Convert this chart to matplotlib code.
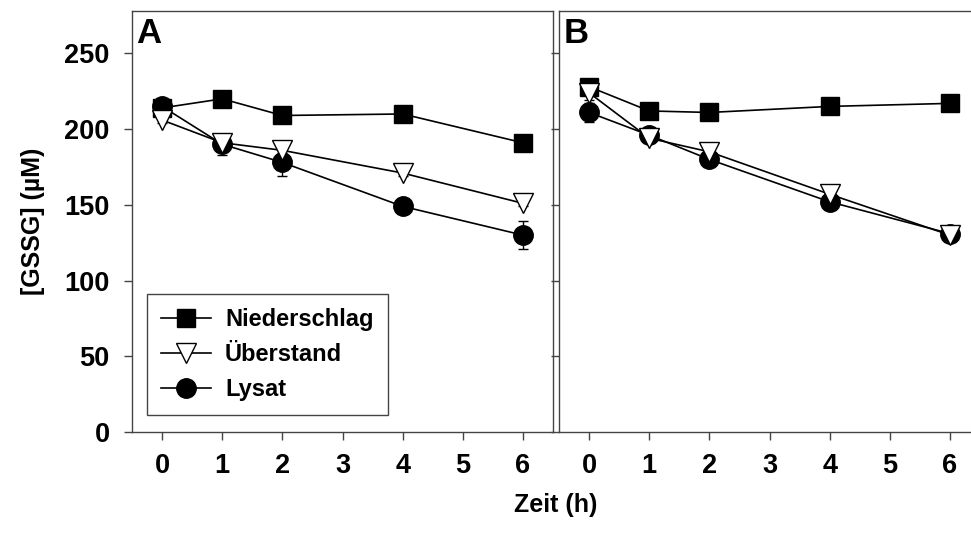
import numpy as np
import matplotlib.pyplot as plt
from matplotlib.lines import Line2D

plt.rcParams['font.family'] = ['Liberation Sans', 'DejaVu Sans']
plt.rcParams['font.weight'] = 'bold'

zeit = [0, 1, 2, 4, 6]

# Panel A
a_niederschlag = [214, 220, 209, 210, 191]
a_niederschlag_err = [2, 2, 2, 2, 2]
a_ueberstand = [206, 191, 186, 171, 151]
a_ueberstand_err = [2, 2, 2, 2, 2]
a_lysat = [215, 190, 178, 149, 130]
a_lysat_err = [3, 7, 9, 2, 9]

# Panel B
b_niederschlag = [228, 212, 211, 215, 217]
b_niederschlag_err = [2, 2, 2, 2, 2]
b_ueberstand = [224, 194, 185, 157, 130]
b_ueberstand_err = [5, 2, 2, 5, 2]
b_lysat = [211, 196, 180, 152, 131]
b_lysat_err = [6, 2, 2, 2, 2]

labels = ['Niederschlag', 'Überstand', 'Lysat']
yticks = [0, 50, 100, 150, 200, 250]
xticks = [0, 1, 2, 3, 4, 5, 6]

fig = plt.figure(figsize=(9.71, 5.34), dpi=100)
W, H = 971, 534
ax_a = fig.add_axes([132 / W, (H - 432) / H, 421 / W, 421 / H])
ax_b = fig.add_axes([559 / W, (H - 432) / H, 421 / W, 421 / H])

spine_col = '#444444'
styles = {
    'Niederschlag': dict(marker='s', ms=12.5, mfc='black'),
    'Überstand': dict(marker='v', ms=14, mfc='white'),
    'Lysat': dict(marker='o', ms=14, mfc='black'),
}


def draw(ax, nied, nied_err, ueb, ueb_err, lys, lys_err):
    common = dict(color='black', lw=1.2, elinewidth=1.0, capsize=3.5, capthick=1.0,
                  markeredgecolor='black', markeredgewidth=1.0)
    ax.errorbar(zeit, nied, yerr=nied_err, zorder=3, **styles['Niederschlag'], **common)
    ax.errorbar(zeit, lys, yerr=lys_err, zorder=4, **styles['Lysat'], **common)
    ax.errorbar(zeit, ueb, yerr=ueb_err, zorder=5, **styles['Überstand'], **common)
    ax.set_xlim(-0.5, 6.5)
    ax.set_ylim(0, 278)
    ax.set_xticks(xticks)
    ax.set_yticks(yticks)
    for s in ax.spines.values():
        s.set_color(spine_col)
        s.set_linewidth(1.0)
    ax.tick_params(direction='out', length=6, width=1.0, color=spine_col,
                   labelsize=19.5, pad=9)


draw(ax_a, a_niederschlag, a_niederschlag_err, a_ueberstand, a_ueberstand_err,
     a_lysat, a_lysat_err)
draw(ax_b, b_niederschlag, b_niederschlag_err, b_ueberstand, b_ueberstand_err,
     b_lysat, b_lysat_err)

ax_b.tick_params(axis='y', labelleft=False)
ax_a.tick_params(axis='y', pad=10)

ax_a.text(0.01, 0.985, 'A', transform=ax_a.transAxes, fontsize=25,
          fontweight='bold', va='top', ha='left')
ax_b.text(0.01, 0.985, 'B', transform=ax_b.transAxes, fontsize=25,
          fontweight='bold', va='top', ha='left')

ax_a.set_ylabel('[GSSG] (µM)', fontsize=18, fontweight='bold', labelpad=14)
fig.text(556 / W, 1 - 505 / H, 'Zeit (h)', fontsize=18, fontweight='bold',
         ha='center', va='center')

handles = [Line2D([], [], color='black', lw=1.2, markeredgecolor='black',
                  markeredgewidth=1.0, **styles[l]) for l in labels]
leg = ax_a.legend(handles, labels, loc='lower left', bbox_to_anchor=(0.036, 0.04),
                  borderaxespad=0, fontsize=17, fancybox=False,
                  edgecolor=spine_col, framealpha=1, handlelength=2.1,
                  handletextpad=0.6, labelspacing=0.5, borderpad=0.6)
leg.get_frame().set_linewidth(1.0)

fig.savefig('out.png', dpi=100)
